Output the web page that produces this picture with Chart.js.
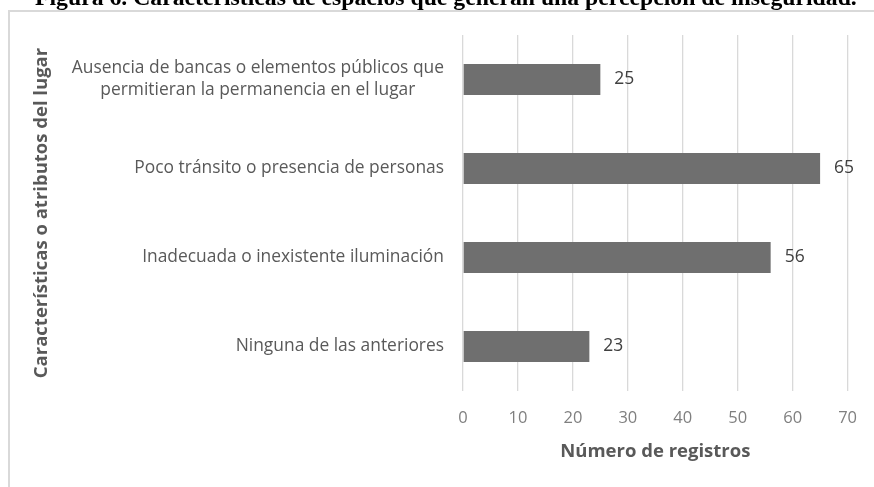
<!DOCTYPE html>
<html>
<head>
<meta charset="utf-8">
<script src="https://cdn.jsdelivr.net/npm/chart.js@4.4.1/dist/chart.umd.min.js"></script>
<style>
  html, body { margin: 0; padding: 0; background: #ffffff; }
  #wrap { position: relative; width: 874px; height: 487px; }
</style>
</head>
<body>
<div id="wrap"><canvas id="chartCanvas"></canvas></div>
<script>
// datos
const tituloFigura = "Figura 6. Características de espacios que generan una percepción de inseguridad.";
const categorias = [
	["Ausencia de bancas o elementos públicos que", "permitieran la permanencia en el lugar"],
	["Poco tránsito o presencia de personas"],
	["Inadecuada o inexistente iluminación"],
	["Ninguna de las anteriores"]
];
const registros = [25, 65, 56, 23];
const ticksX = [0, 10, 20, 30, 40, 50, 60, 70];
const tituloX = "Número de registros";
const tituloY = "Características o atributos del lugar";

const fuente = "'Open Sans', 'DejaVu Sans', sans-serif";

// marco del gráfico y título cortado arriba
const marco = {
	id: "marco",
	beforeDraw(chart) {
		const c = chart.ctx;
		c.save();
		c.fillStyle = "#ffffff";
		c.fillRect(0, 0, chart.width, chart.height);
		c.strokeStyle = "#d9d9d9";
		c.lineWidth = 2;
		c.beginPath();
		c.moveTo(9, chart.height);
		c.lineTo(9, 11);
		c.lineTo(chart.width, 11);
		c.stroke();
		// título de la figura (ajustado al ancho original)
		c.font = "bold 20px 'Liberation Serif', serif";
		const w = c.measureText(tituloFigura).width;
		const size = 20 * 822 / w;
		c.font = "bold " + size.toFixed(2) + "px 'Liberation Serif', serif";
		c.fillStyle = "#000000";
		c.textAlign = "left";
		c.textBaseline = "alphabetic";
		c.fillText(tituloFigura, 35, 5);
		c.restore();
	}
};

// etiquetas de categorías (centradas entre líneas) y valores
const etiquetas = {
	id: "etiquetas",
	afterDatasetsDraw(chart) {
		const c = chart.ctx;
		const yScale = chart.scales.y;
		c.save();
		c.font = "17.4px " + fuente;
		c.fillStyle = "#595959";
		c.textAlign = "center";
		c.textBaseline = "middle";
		const derecha = yScale.right - 19;
		categorias.forEach((lineas, i) => {
			const y = yScale.getPixelForValue(i);
			const ancho = Math.max(...lineas.map(l => c.measureText(l).width));
			const cx = derecha - ancho / 2;
			const alto = 22;
			const y0 = y - (lineas.length - 1) * alto / 2;
			lineas.forEach((l, k) => c.fillText(l, cx, y0 + k * alto));
		});

		c.font = "17.5px " + fuente;
		c.fillStyle = "#404040";
		c.textAlign = "left";
		const meta = chart.getDatasetMeta(0);
		meta.data.forEach((bar, i) => {
			c.fillText(String(registros[i]), bar.x + 14, bar.y);
		});
		c.restore();
	}
};

const ctx = document.getElementById("chartCanvas").getContext("2d");
const chart = new Chart(ctx, {
	type: "bar",
	data: {
		labels: categorias,
		datasets: [
			{
				label: tituloX,
				data: registros,
				backgroundColor: "#6f6f6f",
				borderWidth: 0,
				categoryPercentage: 1,
				barPercentage: 0.35,
			},
		],
	},
	options: {
		indexAxis: "y",
		responsive: true,
		maintainAspectRatio: false,
		animation: false,
		layout: {
			padding: { left: 30, top: 35, right: 22, bottom: 0 },
		},
		scales: {
			x: {
				min: ticksX[0],
				max: ticksX[ticksX.length - 1],
				ticks: {
					stepSize: ticksX[1] - ticksX[0],
					padding: 17,
					color: "#7f7f7f",
					font: { family: fuente, size: 16.5 },
				},
				grid: { color: "#d9d9d9", lineWidth: 1.3, drawTicks: false },
				border: { display: false },
				title: {
					display: true,
					text: tituloX,
					color: "#595959",
					font: { family: fuente, size: 18.5, weight: "bold" },
					padding: { top: 0, bottom: 24 },
				},
				afterFit(scale) {
					scale.height = 96;
				},
			},
			y: {
				ticks: { display: false },
				grid: { display: false },
				border: { display: false },
				title: {
					display: true,
					text: tituloY,
					color: "#595959",
					font: { family: fuente, size: 18.5, weight: "bold" },
					padding: { top: 1, bottom: 0 },
				},
				afterFit(scale) {
					scale.width = 433;
				},
			},
		},
		plugins: {
			legend: { display: false },
			tooltip: { enabled: false },
		},
	},
	plugins: [marco, etiquetas],
});
</script>
</body>
</html>
